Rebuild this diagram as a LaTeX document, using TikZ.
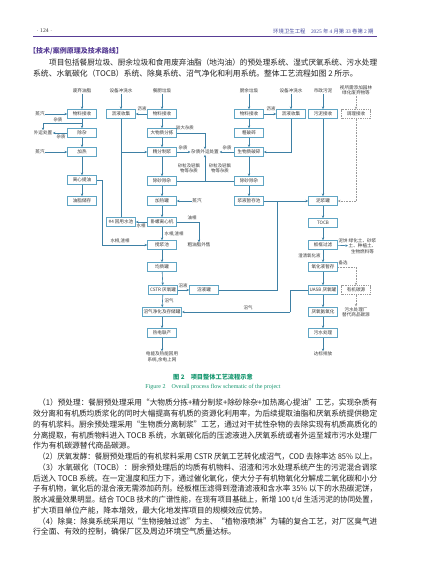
\documentclass[tikz,border=0pt]{standalone}
\usepackage{fontspec}
\setmainfont{Noto Sans CJK SC}
\newfontfamily\latinserif{Liberation Serif}
\usepackage{graphicx}
\usepackage{tikz}
\usetikzlibrary{arrows.meta}
\usetikzlibrary{positioning}

\definecolor{flowline}{RGB}{62,128,165}
\definecolor{boxline}{RGB}{96,165,196}
\definecolor{chartgray}{RGB}{55,55,55}
\definecolor{headblue}{RGB}{70,75,160}
\definecolor{titleviolet}{RGB}{88,62,150}
\definecolor{capgreen}{RGB}{20,150,110}
\definecolor{bodygray}{RGB}{35,35,35}

\newcommand{\chartfont}{\fontsize{4.6}{5.4}\selectfont}
\newcommand{\tagfont}{\fontsize{4.4}{5.2}\selectfont}
\newcommand{\bodyfont}{\fontsize{7.8}{9}\selectfont}
\newcommand{\fullline}[1]{\resizebox{344pt}{\height}{#1}}
\newcommand{\indline}[1]{\resizebox{328pt}{\height}{#1}}
\newcommand{\parline}[1]{\resizebox{339pt}{\height}{#1}}

\tikzset{
	box/.style={draw=boxline, line width=0.8pt, fill=white, minimum width=29pt, minimum height=9pt, inner sep=1.2pt, font=\chartfont, text=chartgray},
	optbox/.style={box, draw=gray!80, dash pattern=on 1pt off 0.8pt, line width=0.6pt},
	src/.style={font=\chartfont, text=chartgray, inner sep=0.5pt, align=center},
	tag/.style={font=\tagfont, text=chartgray, inner sep=0.4pt, align=center},
	flow/.style={draw=flowline, line width=0.6pt, -{Stealth[length=2.6pt,width=2.4pt]}},
	link/.style={draw=flowline, line width=0.6pt},
	optflow/.style={draw=gray!80, line width=0.6pt, dash pattern=on 0.8pt off 0.8pt, -{Stealth[length=2.6pt,width=2.4pt]}},
	optlink/.style={draw=gray!80, line width=0.6pt, dash pattern=on 0.8pt off 0.8pt},
	txtline/.style={anchor=west, font=\bodyfont, text=bodygray, inner sep=0pt},
}

\begin{document}
\begin{tikzpicture}[x=1pt,y=-1pt]
	\useasboundingbox (0,0) rectangle (427,579);
	\fill[white] (0,0) rectangle (427,579);
	
	% page head
	\node[anchor=west, font=\latinserif\fontsize{5.6}{6}\selectfont, text=chartgray] (pageno) at (33,31) {$\cdot$\ 124\ $\cdot$};
	\node[anchor=east, font=\fontsize{5.4}{6}\selectfont, text=headblue] (journal) at (377,31) {环境卫生工程\quad{\latinserif 2025} 年 {\latinserif 4} 月第 {\latinserif 33} 卷第 {\latinserif 2} 期};
	\draw[titleviolet, line width=0.7pt] (33,36) -- (377,36);
	
	\node[anchor=west, font=\bfseries\fontsize{7}{8}\selectfont, text=titleviolet, inner sep=0pt] (sect) at (29,51) {【技术/案例原理及技术路线】};
	\node[txtline] (intro1) at (49,62.5) {\indline{项目包括餐厨垃圾、厨余垃圾和食用废弃油脂（地沟油）的预处理系统、湿式厌氧系统、污水处理}};
	\node[txtline] (intro2) at (33,73.5) {系统、水氧碳化（TOCB）系统、除臭系统、沼气净化和利用系统。整体工艺流程如图 2 所示。};
	
	% sources
	\node[src] (src1) at (82,91) {废弃油脂};
	\node[src] (src2) at (121,91) {设备冲洗水};
	\node[src] (src3) at (162,91) {餐厨垃圾};
	\node[src] (src4) at (249,91) {厨余垃圾};
	\node[src] (src5) at (291,91) {设备冲洗水};
	\node[src] (src6) at (323,91) {市政污泥};
	\node[src] (src7) at (356,90) {视所需添加园林\\绿化废弃物等};
	
	% waste oil line
	\node[box] (oilrecv) at (82,114) {物料接收};
	\node[box] (oilsep) at (82,133) {除杂};
	\node[box] (oilheat) at (82,152) {加热};
	\node[box] (oilcent) at (82,180) {离心提油};
	\node[box] (oilstore) at (82,201) {油脂储存};
	\node[src] (steamA) at (40,114) {蒸汽};
	\node[src] (steamB) at (40,152) {蒸汽};
	\node[src] (waste) at (43,133) {外运处置};
	\coordinate (jA) at (82,123);
	\coordinate (tA) at (102,180);
	
	% rinse water and reuse
	\node[box] (rinse1) at (121,114) {沥液收集};
	\node[box] (reuse) at (121,222) {\#4 回用水池};
	\coordinate (jB) at (121,152);
	
	% kitchen waste line
	\node[box] (kwrecv) at (162,114) {物料接收};
	\node[box] (kwsort) at (162,133) {大物质分拣};
	\node[box] (kwpulp) at (162,152) {精分制浆};
	\node[box] (kwgrit) at (162,181) {除砂除杂};
	\node[box] (kwheat) at (162,201) {加热罐};
	\node[box] (kwcent) at (162,222) {卧螺离心机};
	\node[box] (kwmix) at (162,245) {搅浆池};
	\node[box] (kwhomo) at (162,267) {均质罐};
	\node[box] (cstr) at (163,290) {CSTR 厌氧罐};
	\node[box] (gaspur) at (162,312) {沼气净化及存储罐};
	\node[box] (chp) at (162,333) {热电联产};
	\node[src] (power) at (162,357) {电能及热能回用\\系统,余电上网};
	\node[box] (digtank) at (204,290) {沼液罐};
	\node[src] (impurity) at (205,152) {杂质外运处置};
	\node[src] (crudeoil) at (199,245) {粗油脂外售};
	\node[src] (steamC) at (197,201) {蒸汽};
	\coordinate (jC) at (205,181);
	
	% food waste line
	\node[box] (fwrecv) at (249,114) {物料接收};
	\node[box] (fwcrush) at (249,133) {粗破碎};
	\node[box] (fwbio) at (249,152) {生物质破碎};
	\node[box] (fwgrit) at (249,181) {除砂除杂};
	\node[box] (fwbuf) at (249,201) {浆液暂存池};
	\node[box] (rinse2) at (291,114) {沥液收集};
	\coordinate (jD) at (277,201);
	
	% sludge / TOCB line
	\node[box] (sludge) at (323,114) {污泥接收};
	\node[optbox] (cond) at (356,114) {调理接收};
	\node[box] (slurry) at (323,201) {泥浆罐};
	\node[box] (tocb) at (323,223) {TOCB};
	\node[box] (press) at (323,245) {板框过滤};
	\node[box] (oxbuf) at (323,267) {氧化液暂存};
	\node[box] (uasb) at (323,290) {UASB 厌氧罐};
	\node[box] (anammox) at (323,312) {厌氧氨氧化};
	\node[box] (wwt) at (323,333) {污水处理};
	\node[src] (discharge) at (323,354) {达标排放};
	\node[optbox] (carbon) at (356,290) {有机碳源};
	\node[src] (plant) at (356,312) {污水处理厂\\替代商品碳源};
	\node[src, anchor=west] (cake) at (348,246) {绿化土、砂浆\\土、种植土、\\生物燃料等};
	\coordinate (jE) at (356,201);
	\coordinate (tB) at (290,312);
	
	% connector labels
	\node[tag] (l1) at (58,120) {杂质};
	\node[tag, anchor=north] (l2) at (61,134) {杂质};
	\node[tag] (l3) at (142,109) {沥液};
	\node[tag] (l4) at (185,128) {较大杂质};
	\node[tag] (l5) at (183,148) {杂质};
	\node[tag] (l6) at (227,148) {杂质};
	\node[tag] (l7) at (189,168) {砂粒及轻飘\\物等杂质};
	\node[tag] (l8) at (220,168) {砂粒及轻飘\\物等杂质};
	\node[tag] (l9) at (192,218) {油相};
	\node[tag, anchor=north] (l10) at (141,223) {水相};
	\node[tag, anchor=west] (l11) at (164,234) {水相,渣相};
	\node[tag] (l12) at (120,241) {水相,渣相};
	\node[tag] (l13) at (183,286) {沼液};
	\node[tag, anchor=west] (l14) at (164,301) {沼气};
	\node[tag] (l15) at (271,109) {沥液};
	\node[tag] (l16) at (343,241) {泥饼};
	\node[tag, anchor=east] (l17) at (321,256) {澄清氧化液};
	\node[tag] (l18) at (343,263) {备选};
	\node[tag] (l19) at (248,308) {沼气};
	
	% connectors, waste oil
	\draw[flow] (src1) -- (oilrecv);
	\draw[flow] (steamA) -- (oilrecv);
	\draw[flow] (oilrecv) -- (oilsep);
	\draw[flow] (jA) -| (waste);
	\draw[flow] (oilsep) -- (waste);
	\draw[flow] (oilsep) -- (oilheat);
	\draw[flow] (steamB) -- (oilheat);
	\draw[flow] (oilheat) -- (oilcent);
	\draw[flow] (oilcent) -- (oilstore);
	\draw[link] (oilcent) -- (tA);
	\draw[flow] (tA) |- (kwmix);
	
	% connectors, rinse water
	\draw[flow] (src2) -- (rinse1);
	\draw[flow] (kwrecv) -- (rinse1);
	\draw[link] (rinse1) -- (reuse);
	\draw[flow] (jB) -- (kwpulp);
	
	% connectors, kitchen waste
	\draw[flow] (src3) -- (kwrecv);
	\draw[flow] (kwrecv) -- (kwsort);
	\draw[flow] (kwsort) -- (kwpulp);
	\draw[flow] (kwsort) -| (impurity);
	\draw[flow] (kwpulp) -- (impurity);
	\draw[flow] (kwpulp) -- (kwgrit);
	\draw[link] (kwgrit) -- (fwgrit);
	\draw[flow] (jC) -- (impurity);
	\draw[flow] (kwgrit) -- (kwheat);
	\draw[flow] (steamC) -- (kwheat);
	\draw[flow] (kwheat) -- (kwcent);
	\draw[flow] (kwcent) -| (crudeoil);
	\draw[flow] (kwcent) -- (reuse);
	\draw[flow] (kwcent) -- (kwmix);
	\draw[flow] (kwmix) -- (kwhomo);
	\draw[flow] (kwhomo) -- (cstr);
	\draw[flow] (cstr) -- (digtank);
	\draw[flow] (cstr) -- (gaspur);
	\draw[flow] (gaspur) -- (chp);
	\draw[flow] (chp) -- (power);
	
	% connectors, food waste
	\draw[flow] (src4) -- (fwrecv);
	\draw[flow] (fwrecv) -- (rinse2);
	\draw[flow] (fwrecv) -- (fwcrush);
	\draw[flow] (fwcrush) -- (fwbio);
	\draw[flow] (fwbio) -- (impurity);
	\draw[flow] (fwbio) -- (fwgrit);
	\draw[flow] (fwgrit) -- (fwbuf);
	\draw[flow] (src5) -- (rinse2);
	\draw[flow] (rinse2) |- (fwbio);
	\draw[flow] (fwbuf) -- (slurry);
	\draw[link] (digtank) -| (jD);
	
	% connectors, sludge and TOCB
	\draw[flow] (src6) -- (sludge);
	\draw[flow] (sludge) -- (slurry);
	\draw[optflow] (src7) -- (cond);
	\draw[optlink] (cond) -- (jE);
	\draw[optflow] (jE) -- (slurry);
	\draw[flow] (slurry) -- (tocb);
	\draw[flow] (tocb) -- (press);
	\draw[flow] (press) -- (cake);
	\draw[flow] (press) -- (oxbuf);
	\draw[optflow] (oxbuf) -| (carbon);
	\draw[optflow] (carbon) -- (plant);
	\draw[flow] (oxbuf) -- (uasb);
	\draw[link] (uasb) -| (tB);
	\draw[flow] (tB) -- (gaspur);
	\draw[flow] (uasb) -- (anammox);
	\draw[flow] (anammox) -- (wwt);
	\draw[flow] (wwt) -- (discharge);
	
	% caption
	\node[font=\bfseries\fontsize{6.2}{7}\selectfont, text=capgreen] (cap) at (213,377) {图 2\quad 项目整体工艺流程示意};
	\node[font=\latinserif\fontsize{6}{7}\selectfont, text=capgreen] (capen) at (213,387) {Figure 2\quad Overall process flow schematic of the project};
	
	% body text
	\node[txtline] (b1) at (38,403) {\parline{（1）预处理：餐厨预处理采用“大物质分拣+精分制浆+除砂除杂+加热离心提油”工艺，实现杂质有}};
	\node[txtline] (b2) at (33,413.75) {\fullline{效分离和有机质均质浆化的同时大幅提高有机质的资源化利用率，为后续提取油脂和厌氧系统提供稳定}};
	\node[txtline] (b3) at (33,424.5) {\fullline{的有机浆料。厨余预处理采用“生物质分离制浆”工艺，通过对干扰性杂物的去除实现有机质高质化的}};
	\node[txtline] (b4) at (33,435.25) {\fullline{分离提取，有机质物料进入 TOCB 系统，水氧碳化后的压滤液进入厌氧系统或者外运至城市污水处理厂}};
	\node[txtline] (b5) at (33,446) {作为有机碳源替代商品碳源。};
	\node[txtline] (b6) at (38,456.75) {\parline{（2）厌氧发酵：餐厨预处理后的有机浆料采用 CSTR 厌氧工艺转化成沼气，COD 去除率达 85\% 以上。}};
	\node[txtline] (b7) at (38,467.5) {\parline{（3）水氧碳化（TOCB）：厨余预处理后的均质有机物料、沼渣和污水处理系统产生的污泥混合调浆}};
	\node[txtline] (b8) at (33,478.25) {\fullline{后送入 TOCB 系统。在一定温度和压力下，通过催化氧化，使大分子有机物氧化分解成二氧化碳和小分}};
	\node[txtline] (b9) at (33,489) {\fullline{子有机物，氧化后的混合液无需添加药剂。经板框压滤得到澄清滤液和含水率 35\% 以下的水热碳泥饼，}};
	\node[txtline] (b10) at (33,499.75) {\fullline{脱水减量效果明显。结合 TOCB 技术的广谱性能，在现有项目基础上，新增 100 t/d 生活污泥的协同处置，}};
	\node[txtline] (b11) at (33,510.5) {扩大项目单位产能，降本增效，最大化地发挥项目的规模效应优势。};
	\node[txtline] (b12) at (38,521.25) {\parline{（4）除臭：除臭系统采用以“生物接触过滤”为主、“植物液喷淋”为辅的复合工艺，对厂区臭气进}};
	\node[txtline] (b13) at (33,532) {行全面、有效的控制，确保厂区及周边环境空气质量达标。};
\end{tikzpicture}
\end{document}
